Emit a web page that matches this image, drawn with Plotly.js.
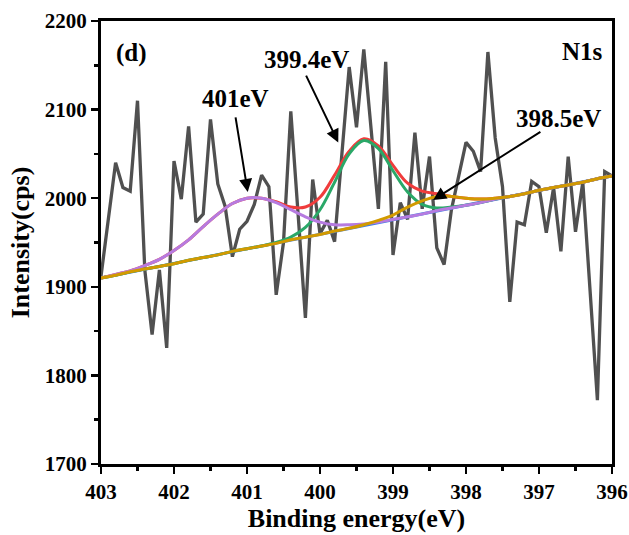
<!DOCTYPE html>
<html>
<head>
<meta charset="utf-8">
<script src="https://cdn.plot.ly/plotly-3.0.1.min.js"></script>
<style>html,body{margin:0;padding:0;background:#fff;}#chart{width:629px;height:535px;}</style>
</head>
<body>
<div id="chart"></div>
<script>
// Raw N1s spectrum (binding energy, eV) -> counts
const rawEnergy = [403.0,402.9,402.8,402.7,402.6,402.5,402.4,402.3,402.2,402.1,
  402.0,401.9,401.8,401.7,401.6,401.5,401.4,401.3,401.2,401.1,
  401.0,400.9,400.8,400.7,400.6,400.5,400.4,400.3,400.2,400.1,
  400.0,399.9,399.8,399.7,399.6,399.5,399.4,399.3,399.2,399.1,
  399.0,398.9,398.8,398.7,398.6,398.5,398.4,398.3,398.2,398.1,
  398.0,397.9,397.8,397.7,397.6,397.5,397.4,397.3,397.2,397.1,
  397.0,396.9,396.8,396.7,396.6,396.5,396.4,396.3,396.2,396.1,396.0];
const rawCounts = [1912,1975,2040,2012,2008,2110,1919,1846,1919,1831,
  2042,1999,2081,1973,1982,2089,2016,1991,1934,1965,
  1974,1993,2026,2013,1891,1950,2098,1982,1865,2021,
  1960,1975,1951,2050,2148,2080,2168,2078,1988,2154,
  1936,1995,1976,2074,1988,2047,1944,1925,1987,2025,
  2063,2053,2030,2165,2068,2013,1883,1973,1970,2019,
  2013,1961,2012,1940,2047,1962,2018,1895,1772,2030,2025];

// Fitted curves
const fitEnergy = [403.0,402.8,402.6,402.4,402.2,402.0,401.8,401.6,401.4,401.2,
  401.0,400.8,400.6,400.4,400.2,400.0,399.8,399.6,399.4,399.2,
  399.0,398.8,398.6,398.4,398.2,398.0,397.8,397.6,397.4,397.2,
  397.0,396.8,396.6,396.4,396.2,396.0];
const envelope = [1910,1914,1918,1924,1931,1941,1953,1968,1982,1994,
  2000,2000,1996,1990,1990,2001,2026,2053,2067,2059,
  2037,2017,2008,2005,2002,2000,1999,2000,2002,2005,
  2009,2012,2015,2018,2022,2025];
const peak399 = [1910,1913,1917,1920,1923,1926,1930,1933,1936,1940,
  1943,1946,1950,1956,1967,1987,2018,2050,2065,2056,
  2031,2007,1993,1989,1990,1992,1995,1999,2002,2005,
  2009,2012,2015,2018,2022,2025];
const peak401 = [1910,1914,1918,1924,1931,1941,1953,1968,1982,1994,
  2000,2000,1995,1987,1979,1973,1970,1970,1971,1973,
  1976,1979,1982,1986,1989,1992,1995,1999,2002,2005,
  2009,2012,2015,2018,2022,2025];
const peak398 = [1910,1913,1917,1920,1923,1926,1930,1933,1936,1940,
  1943,1946,1949,1953,1956,1959,1963,1966,1970,1975,
  1981,1990,1997,2002,2002,2000,1999,2000,2002,2005,
  2009,2012,2015,2018,2022,2025];
const baseEnergy = [403.0, 396.0];
const baseline = [1910, 2025];

const xTickVals = [403,402,401,400,399,398,397,396];
const yTickVals = [1700,1800,1900,2000,2100,2200];

const FONT = 'Liberation Serif, Times New Roman, serif';

const traces = [
  {x: rawEnergy, y: rawCounts, mode: 'lines', line: {color: '#505050', width: 3.3}, hoverinfo: 'skip'},
  {x: baseEnergy, y: baseline, mode: 'lines', line: {color: '#3f7fe0', width: 3}},
  {x: fitEnergy, y: envelope, mode: 'lines', line: {color: '#f03c3c', width: 3, shape: 'spline'}},
  {x: fitEnergy, y: peak399, mode: 'lines', line: {color: '#2aa868', width: 3, shape: 'spline'}},
  {x: fitEnergy, y: peak401, mode: 'lines', line: {color: '#b67be0', width: 3, shape: 'spline'}},
  {x: fitEnergy, y: peak398, mode: 'lines', line: {color: '#d29a00', width: 3, shape: 'spline'}}
];

const txt = (t, x, y, size) => ({text: t, x: x, y: y, xref: 'x', yref: 'y', showarrow: false,
  font: {family: FONT, size: size, color: '#000', weight: 'bold'}, xanchor: 'center', yanchor: 'middle'});
const arr = (x, y, ax, ay) => ({text: '', x: x, y: y, ax: ax, ay: ay, xref: 'x', yref: 'y', axref: 'x', ayref: 'y',
  showarrow: true, arrowhead: 2, arrowsize: 1.3, arrowwidth: 2, arrowcolor: '#000'});

const layout = {
  width: 629, height: 535,
  margin: {l: 101, r: 17, t: 21, b: 71},
  paper_bgcolor: '#fff', plot_bgcolor: '#fff',
  showlegend: false,
  xaxis: {
    range: [403, 396], tickvals: xTickVals, ticks: 'outside', ticklen: 7, tickwidth: 2.5, tickcolor: '#000',
    showline: true, linewidth: 3, linecolor: '#000', mirror: true, showgrid: false, zeroline: false,
    tickfont: {family: FONT, size: 21, color: '#000', weight: 'bold'},
    minor: {dtick: 0.5, tick0: 396, ticks: 'outside', ticklen: 4, tickwidth: 2.5, tickcolor: '#000', showgrid: false},
    title: {text: 'Binding energy(eV)', font: {family: FONT, size: 26, color: '#000', weight: 'bold'}, standoff: 4}
  },
  yaxis: {
    range: [1700, 2200], tickvals: yTickVals, ticks: 'outside', ticklen: 7, tickwidth: 2.5, tickcolor: '#000',
    showline: true, linewidth: 3, linecolor: '#000', mirror: true, showgrid: false, zeroline: false,
    tickfont: {family: FONT, size: 21, color: '#000', weight: 'bold'},
    minor: {dtick: 50, tick0: 1700, ticks: 'outside', ticklen: 4, tickwidth: 2.5, tickcolor: '#000', showgrid: false},
    title: {text: 'Intensity(cps)', font: {family: FONT, size: 26, color: '#000', weight: 'bold'}, standoff: 8}
  },
  annotations: [
    txt('(d)', 402.58, 2164, 25),
    txt('N1s', 396.41, 2166, 25),
    txt('401eV', 401.16, 2112, 25),
    txt('399.4eV', 400.18, 2156, 25),
    txt('398.5eV', 396.73, 2090, 25),
    arr(400.99, 2007, 401.16, 2093),
    arr(399.75, 2063, 400.2, 2140),
    arr(398.45, 1998, 396.96, 2076)
  ]
};

Plotly.newPlot('chart', traces, layout, {displayModeBar: false, staticPlot: true});
</script>
</body>
</html>
